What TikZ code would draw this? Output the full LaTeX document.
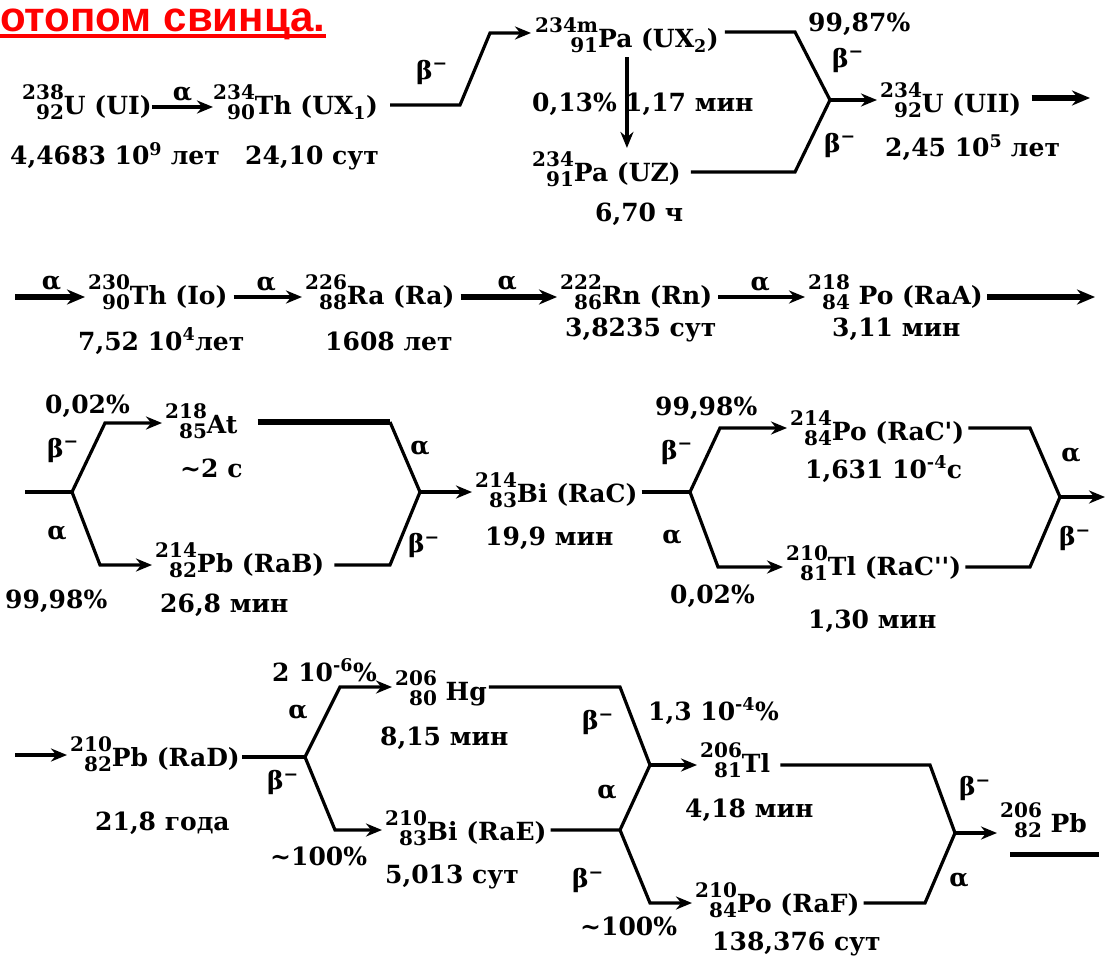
\documentclass[tikz,border=0pt]{standalone}
\usepackage{fontspec}
\setmainfont{DejaVu Serif}
\newfontfamily\titlefont{Liberation Sans}
\usetikzlibrary{arrows.meta}

\newcommand\iso[2]{\raisebox{-5pt}{\vbox{\fontsize{20}{20}\selectfont\halign{\hfil##\cr#1\cr#2\cr}}}}
\newcommand\bmin{β\textsuperscript{−}}

\begin{document}
\begin{tikzpicture}[x=1pt, y=-1pt, >=Stealth,
  every node/.style={font=\fontsize{25}{28}\selectfont\bfseries, inner sep=0pt},
  nuc/.style={anchor=base west},
  hl/.style={anchor=base west},
  line/.style={line width=3.2pt},
  arr/.style={line width=3.2pt, -{Stealth[length=16pt,width=13pt]}},
  fat/.style={line width=5.5pt, -{Stealth[length=18pt,width=15pt]}}]
\useasboundingbox (0,0) rectangle (1107,957);

\node[anchor=base west, font=\titlefont\fontsize{42}{46}\selectfont\bfseries, text=red] (title) at (0,32) {отопом свинца.};
\draw[red, line width=4pt] ([yshift=-4pt]title.base west) -- ([yshift=-4pt]title.base east);

% row 1
\node[nuc] (u238) at (22,115) {\iso{238}{92}U (UI)};
\node[nuc] (th234) at (213,115) {\iso{234}{90}Th (UX\textsubscript{1})};
\node[hl] (hu238) at (10,165) {4,4683 10\textsuperscript{9} лет};
\node[hl] (hth234) at (245,165) {24,10 сут};
\node[nuc] (pa234m) at (535,48) {\iso{234m}{91}Pa (UX\textsubscript{2})};
\node[nuc] (pa234) at (532,182) {\iso{234}{91}Pa (UZ)};
\node[hl] (hpa234) at (595,222) {6,70 ч};
\node[anchor=base east] (p013) at (617,112) {0,13\%};
\node[hl] (hpa234m) at (625,112) {1,17 мин};
\node[hl] (p9987) at (808,32) {99,87\%};
\node[nuc] (u234) at (880,113) {\iso{234}{92}U (UII)};
\node[hl] (hu234) at (885,157) {2,45 10\textsuperscript{5} лет};
\node (b1) at (432,72) {\bmin};
\node (b2) at (848,60) {\bmin};
\node (b3) at (840,145) {\bmin};

\coordinate (k1) at (460,105);
\coordinate (k2) at (490,33);
\coordinate (k3) at (795,32);
\coordinate (k4) at (795,172);
\coordinate (j1) at (830,100);
\coordinate (e1) at (1090,98);
\draw[arr] ([yshift=8pt]u238.base east) -- node[above=4pt] (a1) {α} ([yshift=8pt]th234.base west);
\draw[arr, shorten <=12pt, shorten >=4pt] (th234.east |- k1) -- (k1) -- (k2) -- (pa234m.west |- k2);
\draw[arr, shorten <=4pt, shorten >=4pt] (pa234m.south) -- (pa234m.south |- pa234.north);
\draw[line, shorten <=6pt] (pa234m.east |- k3) -- (k3) -- (j1);
\draw[line, shorten <=10pt] (pa234.east |- k4) -- (k4) -- (j1);
\draw[arr, shorten >=3pt] (j1) -- (u234.west |- j1);
\draw[fat, shorten <=10pt] (u234.east |- e1) -- (e1);

% row 2
\coordinate (s2) at (15,297);
\coordinate (e2) at (1095,297);
\node[nuc] (th230) at (88,305) {\iso{230}{90}Th (Io)};
\node[nuc] (ra226) at (305,305) {\iso{226}{88}Ra (Ra)};
\node[nuc] (rn222) at (560,305) {\iso{222}{86}Rn (Rn)};
\node[nuc] (po218) at (808,305) {\iso{218}{84} Po (RaA)};
\node[hl] (hth230) at (78,350) {7,52 10\textsuperscript{4}лет};
\node[hl] (hra226) at (325,350) {1608 лет};
\node[hl] (hrn222) at (565,336) {3,8235 сут};
\node[hl] (hpo218) at (832,336) {3,11 мин};
\draw[fat, shorten >=3pt] (s2) -- node[above=4pt] (a2) {α} (th230.west |- s2);
\draw[arr, shorten <=6pt, shorten >=3pt] ([yshift=8pt]th230.base east) -- node[above=4pt] (a3) {α} ([yshift=8pt]ra226.base west);
\draw[fat, shorten <=6pt, shorten >=3pt] ([yshift=8pt]ra226.base east) -- node[above=4pt] (a4) {α} ([yshift=8pt]rn222.base west);
\draw[arr, shorten <=6pt, shorten >=3pt] ([yshift=8pt]rn222.base east) -- node[above=4pt] (a5) {α} ([yshift=8pt]po218.base west);
\draw[fat, shorten <=4pt] (po218.east |- e2) -- (e2);

% row 3
\coordinate (s3) at (25,492);
\coordinate (j3) at (72,492);
\coordinate (k5) at (105,423);
\coordinate (k6) at (100,565);
\coordinate (k7) at (390,422);
\coordinate (k8) at (390,565);
\coordinate (j4) at (420,492);
\coordinate (j5) at (690,492);
\coordinate (k9) at (720,428);
\coordinate (k10) at (718,567);
\coordinate (k11) at (1030,428);
\coordinate (k12) at (1030,567);
\coordinate (j6) at (1060,497);
\coordinate (e3) at (1105,497);
\node[nuc] (at218) at (165,433) {\iso{218}{85}At};
\node[nuc] (pb214) at (155,572) {\iso{214}{82}Pb (RaB)};
\node[nuc] (bi214) at (475,502) {\iso{214}{83}Bi (RaC)};
\node[nuc] (po214) at (790,440) {\iso{214}{84}Po (RaC\textquotesingle)};
\node[nuc] (tl210) at (786,575) {\iso{210}{81}Tl (RaC\textquotesingle\textquotesingle)};
\node[hl] (q1) at (45,413) {0,02\%};
\node[hl] (q2) at (5,608) {99,98\%};
\node[hl] (hat218) at (180,477) {\textasciitilde2 с};
\node[hl] (hpb214) at (160,612) {26,8 мин};
\node[hl] (hbi214) at (485,545) {19,9 мин};
\node[hl] (q3) at (655,415) {99,98\%};
\node[hl] (q4) at (670,603) {0,02\%};
\node[hl] (hpo214) at (805,478) {1,631 10\textsuperscript{-4}с};
\node[hl] (htl210) at (808,628) {1,30 мин};
\node (b4) at (63,450) {\bmin};
\node (a6) at (57,533) {α};
\node (a7) at (420,448) {α};
\node (b5) at (424,545) {\bmin};
\node (b6) at (677,452) {\bmin};
\node (a8) at (672,537) {α};
\node (a9) at (1071,455) {α};
\node (b7) at (1075,538) {\bmin};
\draw[line] (s3) -- (j3);
\draw[arr, shorten >=3pt] (j3) -- (k5) -- (at218.west |- k5);
\draw[arr, shorten >=3pt] (j3) -- (k6) -- (pb214.west |- k6);
\draw[line, line width=5.5pt, shorten <=20pt] (at218.east |- k7) -- (k7);
\draw[line] (k7) -- (j4);
\draw[line, shorten <=10pt] (pb214.east |- k8) -- (k8) -- (j4);
\draw[arr, shorten >=3pt] (j4) -- (bi214.west |- j4);
\draw[line, shorten <=4pt] (bi214.east |- j5) -- (j5);
\draw[arr, shorten >=3pt] (j5) -- (k9) -- (po214.west |- k9);
\draw[arr, shorten >=3pt] (j5) -- (k10) -- (tl210.west |- k10);
\draw[line, shorten <=4pt] (po214.east |- k11) -- (k11) -- (j6);
\draw[line, shorten <=4pt] (tl210.east |- k12) -- (k12) -- (j6);
\draw[arr] (j6) -- (e3);

% row 4
\coordinate (s4) at (15,755);
\coordinate (j7) at (305,757);
\coordinate (k13) at (340,687);
\coordinate (k14) at (335,830);
\coordinate (k15) at (620,687);
\coordinate (j8) at (650,765);
\coordinate (j9) at (620,830);
\coordinate (k16) at (650,903);
\coordinate (k17) at (930,765);
\coordinate (k18) at (925,903);
\coordinate (j10) at (955,833);
\node[nuc] (pb210) at (70,766) {\iso{210}{82}Pb (RaD)};
\node[nuc] (hg206) at (395,700) {\iso{206}{80} Hg};
\node[nuc] (bi210) at (385,840) {\iso{210}{83}Bi (RaE)};
\node[nuc] (tl206) at (700,772) {\iso{206}{81}Tl};
\node[nuc] (po210) at (695,912) {\iso{210}{84}Po (RaF)};
\node[nuc] (pb206) at (1000,832) {\iso{206}{82} Pb};
\node[hl] (hpb210) at (95,830) {21,8 года};
\node[hl] (hhg206) at (380,745) {8,15 мин};
\node[hl] (hbi210) at (385,883) {5,013 сут};
\node[hl] (htl206) at (685,817) {4,18 мин};
\node[hl] (hpo210) at (712,950) {138,376 сут};
\node[hl] (q5) at (272,681) {2 10\textsuperscript{-6}\%};
\node[hl] (q6) at (270,865) {\textasciitilde100\%};
\node[hl] (q7) at (648,720) {1,3 10\textsuperscript{-4}\%};
\node[hl] (q8) at (580,935) {\textasciitilde100\%};
\node (a10) at (298,712) {α};
\node (b8) at (283,782) {\bmin};
\node (b9) at (598,722) {\bmin};
\node (a11) at (607,792) {α};
\node (b10) at (588,880) {\bmin};
\node (b11) at (975,788) {\bmin};
\node (a12) at (959,880) {α};
\draw[arr, shorten >=3pt] (s4) -- (pb210.west |- s4);
\draw[line, shorten <=2pt] (pb210.east |- j7) -- (j7);
\draw[arr, shorten >=3pt] (j7) -- (k13) -- (hg206.west |- k13);
\draw[arr, shorten >=3pt] (j7) -- (k14) -- (bi210.west |- k14);
\draw[line, shorten <=2pt] (hg206.east |- k15) -- (k15) -- (j8);
\draw[line, shorten <=4pt] (bi210.east |- j9) -- (j9) -- (j8);
\draw[arr, shorten >=3pt] (j8) -- (tl206.west |- j8);
\draw[arr, shorten >=3pt] (j9) -- (k16) -- (po210.west |- k16);
\draw[line, shorten <=10pt] (tl206.east |- k17) -- (k17) -- (j10);
\draw[line, shorten <=4pt] (po210.east |- k18) -- (k18) -- (j10);
\draw[arr, shorten >=3pt] (j10) -- (pb206.west |- j10);
\draw[line width=5pt] ([shift={(10,22)}]pb206.base west) -- ([shift={(12,22)}]pb206.base east);
\end{tikzpicture}
\end{document}
